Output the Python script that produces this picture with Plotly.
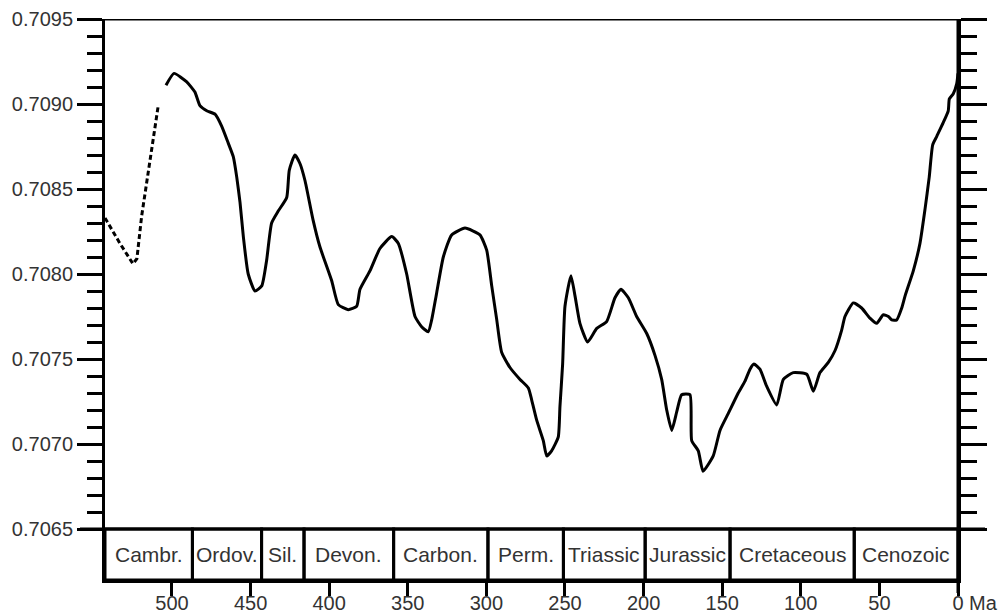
import plotly.graph_objects as go

# Seawater 87Sr/86Sr through the Phanerozoic (age in Ma, ratio)
dashed_age = [542.6, 533.1, 524.8, 522.3, 519.3, 514.0, 508.9]
dashed_sr = [0.70833, 0.70818, 0.70806, 0.70809, 0.70834, 0.70867, 0.70898]

solid_age = [503.8, 498.7, 490.6, 485.4, 482.2, 477.9, 472.6, 468.4, 464.2, 461.0,
             458.8, 456.7, 454.6, 451.5, 447.2, 442.9, 439.8, 436.6, 432.4, 427.0,
             425.4, 421.8, 418.6, 415.4, 410.3, 405.9, 398.4, 394.2, 387.9, 382.5,
             380.4, 374.0, 367.7, 360.2, 356.0, 350.7, 345.4, 341.2, 337.0, 334.8,
             331.6, 327.4, 322.1, 313.6, 304.1, 299.8, 296.6, 293.4, 290.3, 285.0,
             278.6, 273.3, 271.2, 268.0, 263.8, 261.6, 258.5, 254.3, 253.2, 251.5,
             250.0, 246.2, 243.6, 240.5, 235.6, 229.8, 223.5, 218.2, 214.4, 209.7,
             204.4, 198.0, 192.7, 188.5, 185.3, 182.1, 178.9, 175.8, 170.5, 169.4,
             165.2, 162.2, 155.7, 151.4, 146.1, 139.8, 135.5, 132.3, 129.8, 126.0,
             121.7, 115.3, 111.1, 104.8, 96.2, 92.0, 87.8, 82.5, 78.2, 74.0,
             71.9, 66.6, 61.3, 56.0, 51.7, 47.5, 44.3, 42.2, 39.0, 35.8,
             33.7, 28.4, 24.2, 21.0, 18.3, 16.1, 13.5, 9.4, 6.2, 5.5,
             3.0, 0.8, 0.0]
solid_sr = [0.70911, 0.70918, 0.70913, 0.70907, 0.70899, 0.70896, 0.70894, 0.70887, 0.70877, 0.70869,
            0.70857, 0.70842, 0.70822, 0.70800, 0.70790, 0.70793, 0.70808, 0.70830, 0.70837, 0.70845,
            0.70861, 0.70870, 0.70865, 0.70855, 0.70832, 0.70816, 0.70796, 0.70782, 0.70779, 0.70781,
            0.70791, 0.70802, 0.70815, 0.70822, 0.70818, 0.70800, 0.70775, 0.70769, 0.70766, 0.70773,
            0.70789, 0.70810, 0.70823, 0.70827, 0.70823, 0.70814, 0.70793, 0.70773, 0.70754, 0.70745,
            0.70738, 0.70733, 0.70726, 0.70714, 0.70702, 0.70693, 0.70696, 0.70704, 0.70722, 0.70747,
            0.70781, 0.70799, 0.70787, 0.70771, 0.70760, 0.70768, 0.70772, 0.70786, 0.70791, 0.70786,
            0.70775, 0.70765, 0.70752, 0.70738, 0.70720, 0.70708, 0.70719, 0.70729, 0.70729, 0.70702,
            0.70696, 0.70684, 0.70693, 0.70708, 0.70718, 0.70730, 0.70737, 0.70744, 0.70747, 0.70744,
            0.70734, 0.70723, 0.70738, 0.70742, 0.70741, 0.70731, 0.70742, 0.70748, 0.70755, 0.70767,
            0.70775, 0.70783, 0.70780, 0.70774, 0.70771, 0.70776, 0.70775, 0.70773, 0.70773, 0.70780,
            0.70787, 0.70802, 0.70818, 0.70838, 0.70857, 0.70876, 0.70881, 0.70889, 0.70896, 0.70903,
            0.70906, 0.70912, 0.70918]

# Geological periods (older bound, younger bound, label)
period_names = ["Cambr.", "Ordov.", "Sil.", "Devon.", "Carbon.", "Perm.",
                "Triassic", "Jurassic", "Cretaceous", "Cenozoic"]
period_start = [542.6, 487, 443, 416, 359, 299, 251, 199, 145, 66]
period_end = [487, 443, 416, 359, 299, 251, 199, 145, 66, 0]

x_ticks = [500, 450, 400, 350, 300, 250, 200, 150, 100, 50, 0]
x_ticktext = ["500", "450", "400", "350", "300", "250", "200", "150", "100", "50", "0"]
y_major = [0.7065, 0.7070, 0.7075, 0.7080, 0.7085, 0.7090, 0.7095]
y_major_text = ["0.7065", "0.7070", "0.7075", "0.7080", "0.7085", "0.7090", "0.7095"]
y_minor = [round(0.7065 + i * 0.0001, 4) for i in range(31) if i % 5 != 0]

X_RANGE = [542.6, 0]
Y_RANGE = [0.7062, 0.7095]

FONT = "Liberation Sans, Arial, Helvetica, sans-serif"
TXT = "#333333"
LW = 3

# plot area in pixels: left 105, right 958, top 19, bottom 580
L, R, T, B = 105, 958, 19, 580
W, H = R - L, B - T


def px_x(p):
    return (p - L) / W


def px_y(p):
    return (B - p) / H


fig = go.Figure()

fig.add_trace(go.Scatter(x=dashed_age, y=dashed_sr, mode="lines",
                         line=dict(color="black", width=LW, dash="5px,3px"),
                         hoverinfo="skip", showlegend=False))
fig.add_trace(go.Scatter(x=solid_age, y=solid_sr, mode="lines",
                         line=dict(color="black", width=LW, shape="spline", smoothing=0.5),
                         hoverinfo="skip", showlegend=False))
# invisible trace anchoring the right-hand axis
fig.add_trace(go.Scatter(x=[None], y=[None], yaxis="y2", showlegend=False))

shapes = []
# period boxes in the band beneath the curve
y_band_top = px_y(529)
for s, e in zip(period_start, period_end):
    shapes.append(dict(type="rect", xref="x", yref="paper", x0=s, x1=e,
                       y0=0, y1=y_band_top, line=dict(color="black", width=LW)))
# full-width lines at 0.7095 and 0.7065
for yv in (Y_RANGE[1], 0.7065):
    shapes.append(dict(type="line", xref="paper", yref="y", x0=px_x(80), x1=px_x(985),
                       y0=yv, y1=yv, line=dict(color="black", width=LW)))
# right frame line continuing down to the 0 Ma tick
shapes.append(dict(type="line", xref="paper", yref="paper", x0=1, x1=1,
                   y0=px_y(593), y1=1, line=dict(color="black", width=LW)))

annotations = []
for s, e, name in zip(period_start, period_end, period_names):
    annotations.append(dict(x=(s + e) / 2, y=y_band_top / 2, xref="x", yref="paper",
                            text=name, showarrow=False, xanchor="center", yanchor="middle",
                            font=dict(family=FONT, size=21, color=TXT)))
annotations.append(dict(x=px_x(967), y=0, yshift=-23, xref="paper", yref="paper",
                        text="Ma", showarrow=False, xanchor="left", yanchor="middle",
                        font=dict(family=FONT, size=20, color=TXT)))

fig.update_layout(
    width=1004, height=614,
    margin=dict(l=L, r=1004 - R, t=T, b=614 - B, autoexpand=False),
    paper_bgcolor="white", plot_bgcolor="white",
    shapes=shapes, annotations=annotations,
    xaxis=dict(range=X_RANGE, showgrid=False, zeroline=False, automargin=False,
               showline=True, linecolor="black", linewidth=LW,
               ticks="outside", ticklen=13, tickwidth=LW, tickcolor="black",
               ticklabelstandoff=-10,
               tickmode="array", tickvals=x_ticks, ticktext=x_ticktext,
               tickfont=dict(family=FONT, size=20, color=TXT)),
    yaxis=dict(range=Y_RANGE, showgrid=False, zeroline=False, automargin=False,
               showline=True, linecolor="black", linewidth=LW,
               ticks="outside", ticklen=25, tickwidth=LW, tickcolor="black",
               tickmode="array", tickvals=y_major, ticktext=y_major_text,
               tickfont=dict(family=FONT, size=20, color=TXT),
               minor=dict(tickmode="array", tickvals=y_minor, ticks="outside",
                          ticklen=15, tickwidth=LW, tickcolor="black", showgrid=False)),
    yaxis2=dict(range=Y_RANGE, overlaying="y", side="right", showgrid=False,
                zeroline=False, automargin=False, showline=True, linecolor="black",
                linewidth=LW, ticks="outside", ticklen=26, tickwidth=LW, tickcolor="black",
                tickmode="array", tickvals=y_major, showticklabels=False,
                minor=dict(tickmode="array", tickvals=y_minor, ticks="outside",
                           ticklen=16, tickwidth=LW, tickcolor="black", showgrid=False)),
)

fig.write_html("out.html")
